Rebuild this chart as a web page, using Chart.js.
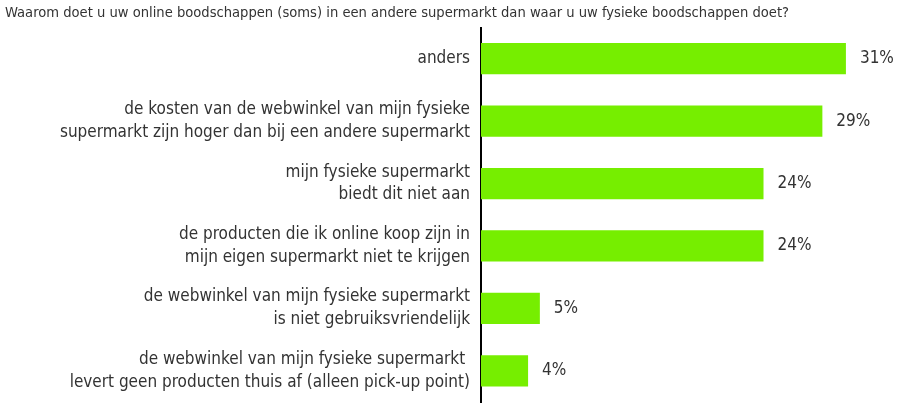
<!DOCTYPE html>
<html>
<head>
<meta charset="utf-8">
<script src="https://cdn.jsdelivr.net/npm/chart.js@4/dist/chart.umd.min.js"></script>
<style>
  body { margin: 0; background: #fff; }
</style>
</head>
<body>
<canvas id="redenenChart" width="900" height="412"></canvas>
<script>
const categories = [
    ['anders'],
    ['de kosten van de webwinkel van mijn fysieke', 'supermarkt zijn hoger dan bij een andere supermarkt'],
    ['mijn fysieke supermarkt', 'biedt dit niet aan'],
    ['de producten die ik online koop zijn in', 'mijn eigen supermarkt niet te krijgen'],
    ['de webwinkel van mijn fysieke supermarkt', 'is niet gebruiksvriendelijk'],
    ['de webwinkel van mijn fysieke supermarkt ', 'levert geen producten thuis af (alleen pick-up point)']
];
const percentages = [31, 29, 24, 24, 5, 4];
const titleText = 'Waarom doet u uw online boodschappen (soms) in een andere supermarkt dan waar u uw fysieke boodschappen doet?';

const fontFamily = "'Liberation Sans Narrow', 'DejaVu Sans Condensed', 'Open Sans', sans-serif";
const textColor = '#333333';

// draws the "31%" labels next to the bars
const valueLabels = {
    id: 'valueLabels',
    afterDatasetsDraw(chart) {
        const ctx = chart.ctx;
        const meta = chart.getDatasetMeta(0);
        ctx.save();
        ctx.font = '17px ' + fontFamily;
        ctx.fillStyle = textColor;
        ctx.textBaseline = 'middle';
        ctx.textAlign = 'left';
        meta.data.forEach(function (bar, i) {
            ctx.fillText(percentages[i] + '%', bar.x + 14, bar.y);
        });
        ctx.restore();
    }
};

const chartConfig = {
    type: 'bar',
    data: {
        labels: categories,
        datasets: [{
            data: percentages,
            backgroundColor: '#76ee00',
            borderWidth: 0,
            categoryPercentage: 1,
            barPercentage: 0.5
        }]
    },
    options: {
        indexAxis: 'y',
        responsive: false,
        animation: false,
        layout: {
            padding: { left: 5, right: 7, top: 0, bottom: 10 }
        },
        plugins: {
            legend: { display: false },
            tooltip: { enabled: false },
            title: {
                display: true,
                text: titleText,
                align: 'start',
                color: textColor,
                font: { family: fontFamily, size: 14.6, weight: 'normal' },
                padding: { top: 4, bottom: 6 }
            }
        },
        scales: {
            x: {
                display: false,
                min: 0,
                max: 35
            },
            y: {
                grid: { display: false, drawOnChartArea: false },
                border: { display: true, color: '#000000', width: 2 },
                ticks: {
                    color: textColor,
                    font: { family: fontFamily, size: 17, lineHeight: 1.35 },
                    padding: 3
                },
                afterFit(scale) {
                    scale.width = 476;
                    scale.paddingTop = 0;
                    scale.paddingBottom = 0;
                }
            }
        }
    },
    plugins: [valueLabels]
};

window.onload = function () {
    const ctx = document.getElementById('redenenChart').getContext('2d');
    new Chart(ctx, chartConfig);
};
</script>
</body>
</html>
